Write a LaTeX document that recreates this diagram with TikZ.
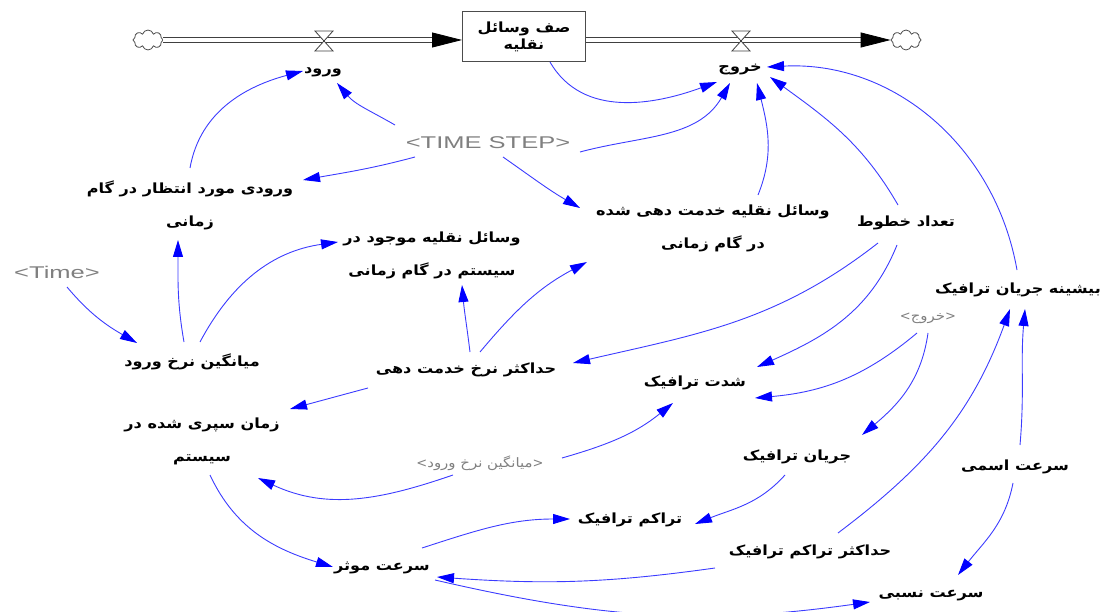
\documentclass[tikz,border=0pt]{standalone}
\usepackage{fontspec}
\usetikzlibrary{arrows.meta,shapes.symbols}
\newfontfamily\farsi[Script=Arabic,FakeStretch=1.15]{DejaVu Sans}
\newfontfamily\plainsans{DejaVu Sans}
\newfontfamily\shadowfont[FakeStretch=1.5]{Liberation Sans}
\TeXXeTstate=1
\newcommand{\fa}[1]{\beginR#1\endR}
\newcommand{\shadowname}[1]{{\plainsans<}\fa{#1}{\plainsans>}}
\definecolor{linkblue}{RGB}{60,60,255}

\tikzset{
  varlabel/.style={font=\farsi\bfseries\fontsize{14}{33}\selectfont, align=center, inner sep=2pt},
  shadowvar/.style={font=\shadowfont\fontsize{17}{20}\selectfont, text=gray, inner sep=2pt},
  shadowfa/.style={font=\farsi\fontsize{13}{15}\selectfont, text=gray, inner sep=2pt},
  stockbox/.style={draw=black!70, line width=1pt, minimum width=123pt, minimum height=50pt,
    font=\farsi\bfseries\fontsize{14}{17}\selectfont, align=center},
  cloudnode/.style={cloud, cloud puffs=8, aspect=1.6, draw=black!70, line width=0.8pt,
    minimum width=30pt, minimum height=20pt, inner sep=0pt},
  pipeflow/.style={draw=black!75, line width=0.8pt, double=white, double distance=4pt,
    -{Triangle[length=30pt,width=15pt,color=black]}},
  valvenode/.style={draw=black!75, line width=0.8pt, fill=white},
  linkarrow/.style={draw=linkblue, line width=0.9pt, -{Triangle[length=17pt,width=10pt,color=blue]}}
}

\begin{document}
\begin{tikzpicture}[x=1pt, y=1pt]
  \useasboundingbox (0,0) rectangle (1116,-612);

  % stock and flows
  \node[cloudnode] (cloudL) at (148,-40) {};
  \node[cloudnode] (cloudR) at (906,-40) {};
  \node[stockbox] (stock) at (524,-37) {\fa{صف وسائل}\\\fa{نقلیه}};
  \draw[pipeflow] (cloudL.east) -- (cloudL.east -| stock.west);
  \draw[pipeflow] (stock.east |- cloudR.west) -- (cloudR.west);
  \coordinate (valveIn) at (324,-41);
  \coordinate (valveOut) at (741,-41);
  \draw[valvenode] ([xshift=-9,yshift=10]valveIn) -- ++(18,0) -- ++(-18,-20) -- ++(18,0) -- cycle;
  \draw[valvenode] ([xshift=-9,yshift=10]valveOut) -- ++(18,0) -- ++(-18,-20) -- ++(18,0) -- cycle;

  % variables
  \begin{scope}[every node/.style={varlabel}]
    \node (inflow) at (323,-72) {\fa{ورود}};
    \node (outflow) at (740,-70) {\fa{خروج}};
    \node (expIn) at (190,-205) {\fa{ورودی مورد انتظار در گام}\\\fa{زمانی}};
    \node (served) at (713,-228) {\fa{وسائل نقلیه خدمت دهی شده}\\\fa{در گام زمانی}};
    \node (lanes) at (906,-223) {\fa{تعداد خطوط}};
    \node (inSys) at (432,-255) {\fa{وسائل نقلیه موجود در}\\\fa{سیستم در گام زمانی}};
    \node (maxFlow) at (1018,-290) {\fa{بیشینه جریان ترافیک}};
    \node (avgIn) at (192,-362) {\fa{میانگین نرخ ورود}};
    \node (maxServ) at (466,-370) {\fa{حداکثر نرخ خدمت دهی}};
    \node (intensity) at (695,-383) {\fa{شدت ترافیک}};
    \node (timeInSys) at (202,-441) {\fa{زمان سپری شده در}\\\fa{سیستم}};
    \node (flow) at (797,-457) {\fa{جریان ترافیک}};
    \node (nomSpeed) at (1015,-467) {\fa{سرعت اسمی}};
    \node (density) at (630,-520) {\fa{تراکم ترافیک}};
    \node (maxDens) at (810,-552) {\fa{حداکثر تراکم ترافیک}};
    \node (effSpeed) at (382,-568) {\fa{سرعت موثر}};
    \node (relSpeed) at (931,-596) {\fa{سرعت نسبی}};
  \end{scope}
  \node[shadowvar] (timestep) at (488,-143) {<TIME STEP>};
  \node[shadowvar] (time) at (57,-272) {<Time>};
  \node[shadowfa] (outShadow) at (928,-318) {\shadowname{خروج}};
  \node[shadowfa] (avgShadow) at (480,-463) {\shadowname{میانگین نرخ ورود}};

  % links
  \begin{scope}[every edge/.style={linkarrow}]
    \path ([xshift=26,yshift=-25]stock.center) edge[out=-60,in=200] ([xshift=-23,yshift=-12]outflow.center);
    \path ([xshift=92,yshift=-9]timestep.center) edge[out=15,in=240] ([xshift=-10,yshift=-13]outflow.center);
    \path ([xshift=-93,yshift=18]timestep.center) edge[out=150,in=-50] ([xshift=14,yshift=-11]inflow.center);
    \path ([xshift=-73,yshift=-14]timestep.center) edge[out=195,in=10] ([xshift=113,yshift=25]expIn.center);
    \path ([xshift=15,yshift=-14]timestep.center) edge[out=-35,in=150] ([xshift=-133,yshift=20]served.center);
    \path ([yshift=37]expIn.center) edge[out=80,in=195] ([xshift=-20,yshift=1]inflow.center);
    \path ([xshift=45,yshift=33]served.center) edge[out=68,in=-76] ([xshift=17,yshift=-13]outflow.center);
    \path ([xshift=-8,yshift=18]lanes.center) edge[out=120,in=-36] ([xshift=30,yshift=-7]outflow.center);
    \path ([xshift=-1,yshift=20]maxFlow.center) edge[out=100,in=3] ([xshift=27,yshift=3]outflow.center);
    \path ([xshift=10,yshift=-15]time.center) edge[out=-50,in=150] ([xshift=-55,yshift=19]avgIn.center);
    \path ([xshift=-8,yshift=20]avgIn.center) edge[out=100,in=-90] ([xshift=-12,yshift=-35]expIn.center);
    \path ([xshift=8,yshift=20]avgIn.center) edge[out=62,in=188] ([xshift=-94,yshift=13]inSys.center);
    \path ([xshift=4,yshift=18]maxServ.center) edge[out=97,in=-85] ([xshift=30,yshift=-30]inSys.center);
    \path ([xshift=14,yshift=18]maxServ.center) edge[out=50,in=208] ([xshift=-126,yshift=-34]served.center);
    \path ([xshift=-28,yshift=-20]lanes.center) edge[out=218,in=13] ([xshift=107,yshift=7]maxServ.center);
    \path ([xshift=-9,yshift=-22]lanes.center) edge[out=248,in=24] ([xshift=62,yshift=16]intensity.center);
    \path ([xshift=-11,yshift=-15]outShadow.center) edge[out=220,in=5] ([xshift=60,yshift=-15]intensity.center);
    \path ([yshift=-15]outShadow.center) edge[out=262,in=40] ([xshift=65,yshift=22]flow.center);
    \path ([xshift=-98,yshift=-18]maxServ.center) edge[out=195,in=15] ([xshift=88,yshift=32]timeInSys.center);
    \path ([xshift=82,yshift=5]avgShadow.center) edge[out=16,in=219] ([xshift=-22,yshift=-20]intensity.center);
    \path ([xshift=-27,yshift=-12]avgShadow.center) edge[out=199,in=-25] ([xshift=56,yshift=-37]timeInSys.center);
    \path ([xshift=8,yshift=-34]timeInSys.center) edge[out=-65,in=163] ([xshift=-49,yshift=1]effSpeed.center);
    \path ([xshift=40,yshift=20]effSpeed.center) edge[out=18,in=180] ([xshift=-60,yshift=1]density.center);
    \path ([xshift=-12,yshift=-18]flow.center) edge[out=228,in=22] ([xshift=65,yshift=-4]density.center);
    \path ([xshift=28,yshift=19]maxDens.center) edge[out=37,in=250] ([xshift=-8,yshift=-19]maxFlow.center);
    \path ([xshift=5,yshift=22]nomSpeed.center) edge[out=85,in=-95] ([xshift=7,yshift=-19]maxFlow.center);
    \path ([xshift=-2,yshift=-16]nomSpeed.center) edge[out=259,in=52] ([xshift=27,yshift=21]relSpeed.center);
    \path ([xshift=-95,yshift=-16]maxDens.center) edge[out=188,in=-4] ([xshift=55,yshift=-9]effSpeed.center);
    \path ([xshift=53,yshift=-12]effSpeed.center) edge[out=-13,in=188] ([xshift=-61,yshift=-6]relSpeed.center);
  \end{scope}
\end{tikzpicture}
\end{document}
